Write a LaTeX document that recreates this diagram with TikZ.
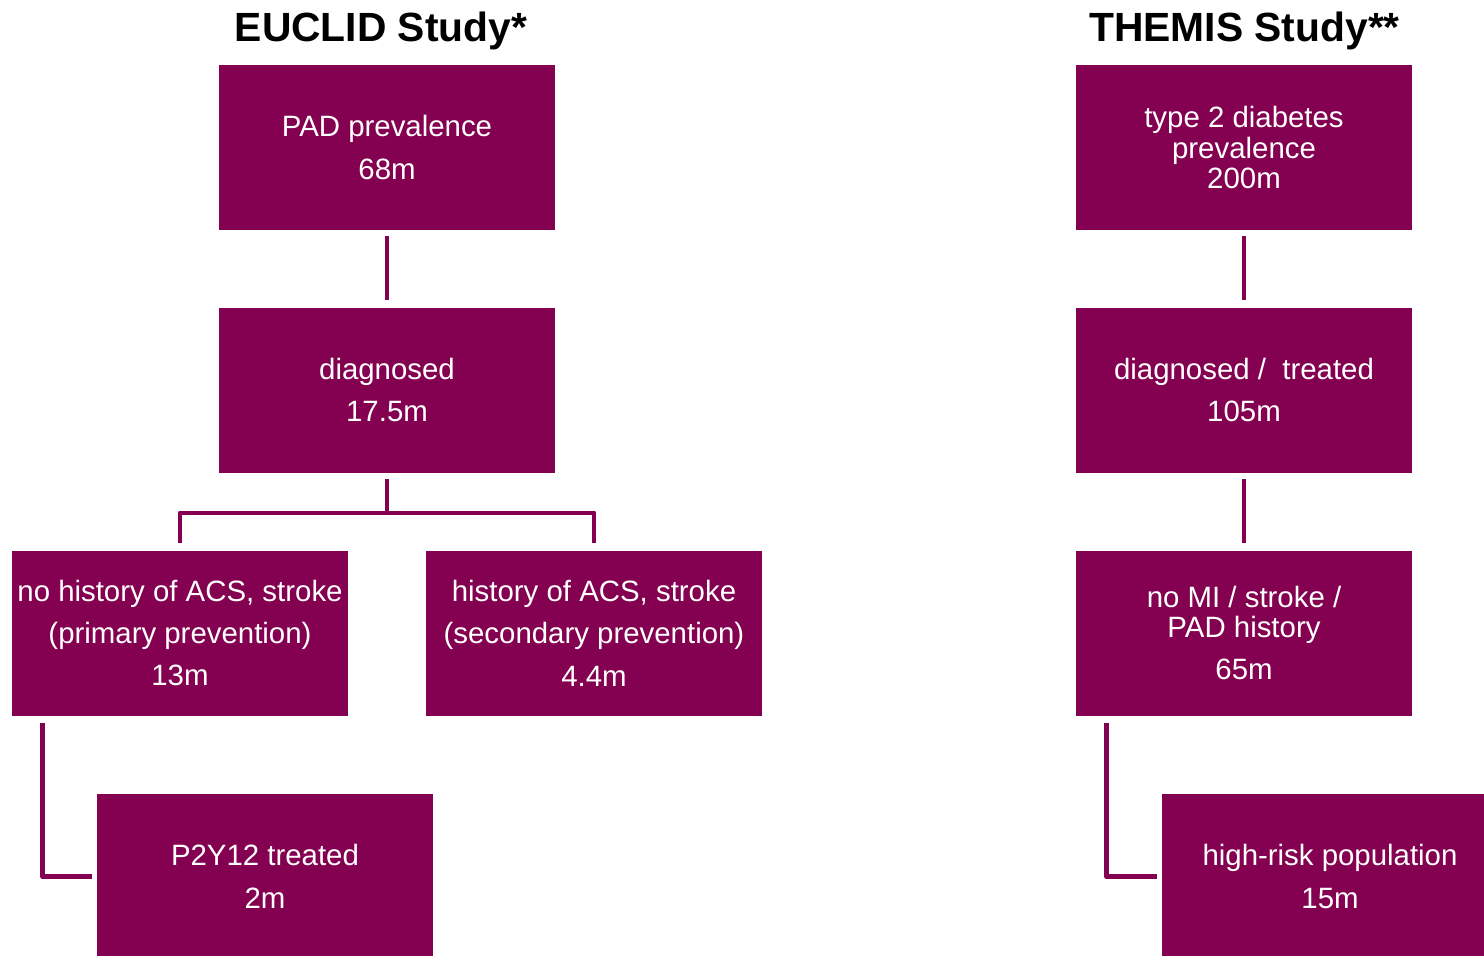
\documentclass[tikz,border=0pt]{standalone}
\usepackage{fontspec}
\setmainfont{Liberation Sans}
\definecolor{mag}{HTML}{840050}
\begin{document}
\begin{tikzpicture}[x=0.5pt,y=-0.5pt,
  box/.style={fill=mag,text=white,minimum width=168pt,minimum height=82.5pt,inner sep=0pt,align=center,
    font=\fontsize{14.7}{21.2}\selectfont},
  tight/.style={font=\fontsize{14.7}{15.2}\selectfont},
  title/.style={font=\fontsize{20.4}{24}\selectfont\bfseries,anchor=base},
  conn/.style={draw=mag,line width=2.4pt,line join=round}]
\useasboundingbox (0,0) rectangle (1484,955);
\clip (0,0) rectangle (1484,955);
% titles
\node[title] (t1) at (381,41) {EUCLID Study*};
\node[title] (t2) at (1244.5,41) {THEMIS Study**};
% EUCLID
\node[box] (pad) at (387,147.5) {PAD prevalence\\68m};
\node[box] (diag) at (387,390) {diagnosed\\17.5m};
\node[box] (nohist) at (180,633) {no history of ACS, stroke\\(primary prevention)\\13m};
\node[box] (hist) at (594,633) {history of ACS, stroke\\(secondary prevention)\\4.4m};
\node[box] (p2y) at (265,876.5) {P2Y12 treated\\2m};
% THEMIS
\node[box,tight] (t2d) at (1244,147.5) {type 2 diabetes\\prevalence\\200m};
\node[box] (dt) at (1244,390) {diagnosed /\ \ treated\\105m};
\node[box,tight] (nomi) at (1244,633) {no MI / stroke /\\PAD history\\[6pt]65m};
\node[box] (hr) at (1330,876.5) {high-risk population\\15m};
% connectors EUCLID
\draw[conn] ([yshift=-3pt]pad.south) -- ([yshift=3.5pt]diag.north);
\coordinate (br) at ([yshift=-20pt]diag.south);
\draw[conn] ([yshift=-3pt]diag.south) -- (br);
\draw[conn] (br) -| ([yshift=3.5pt]nohist.north);
\draw[conn] (br) -| ([yshift=3.5pt]hist.north);
\draw[conn] ([xshift=15.5pt,yshift=-3.5pt]nohist.south west) |- ([xshift=-2.5pt]p2y.west);
% connectors THEMIS
\draw[conn] ([yshift=-3pt]t2d.south) -- ([yshift=3.5pt]dt.north);
\draw[conn] ([yshift=-3pt]dt.south) -- ([yshift=3.5pt]nomi.north);
\draw[conn] ([xshift=15.5pt,yshift=-3.5pt]nomi.south west) |- ([xshift=-2.5pt]hr.west);
\end{tikzpicture}
\end{document}
